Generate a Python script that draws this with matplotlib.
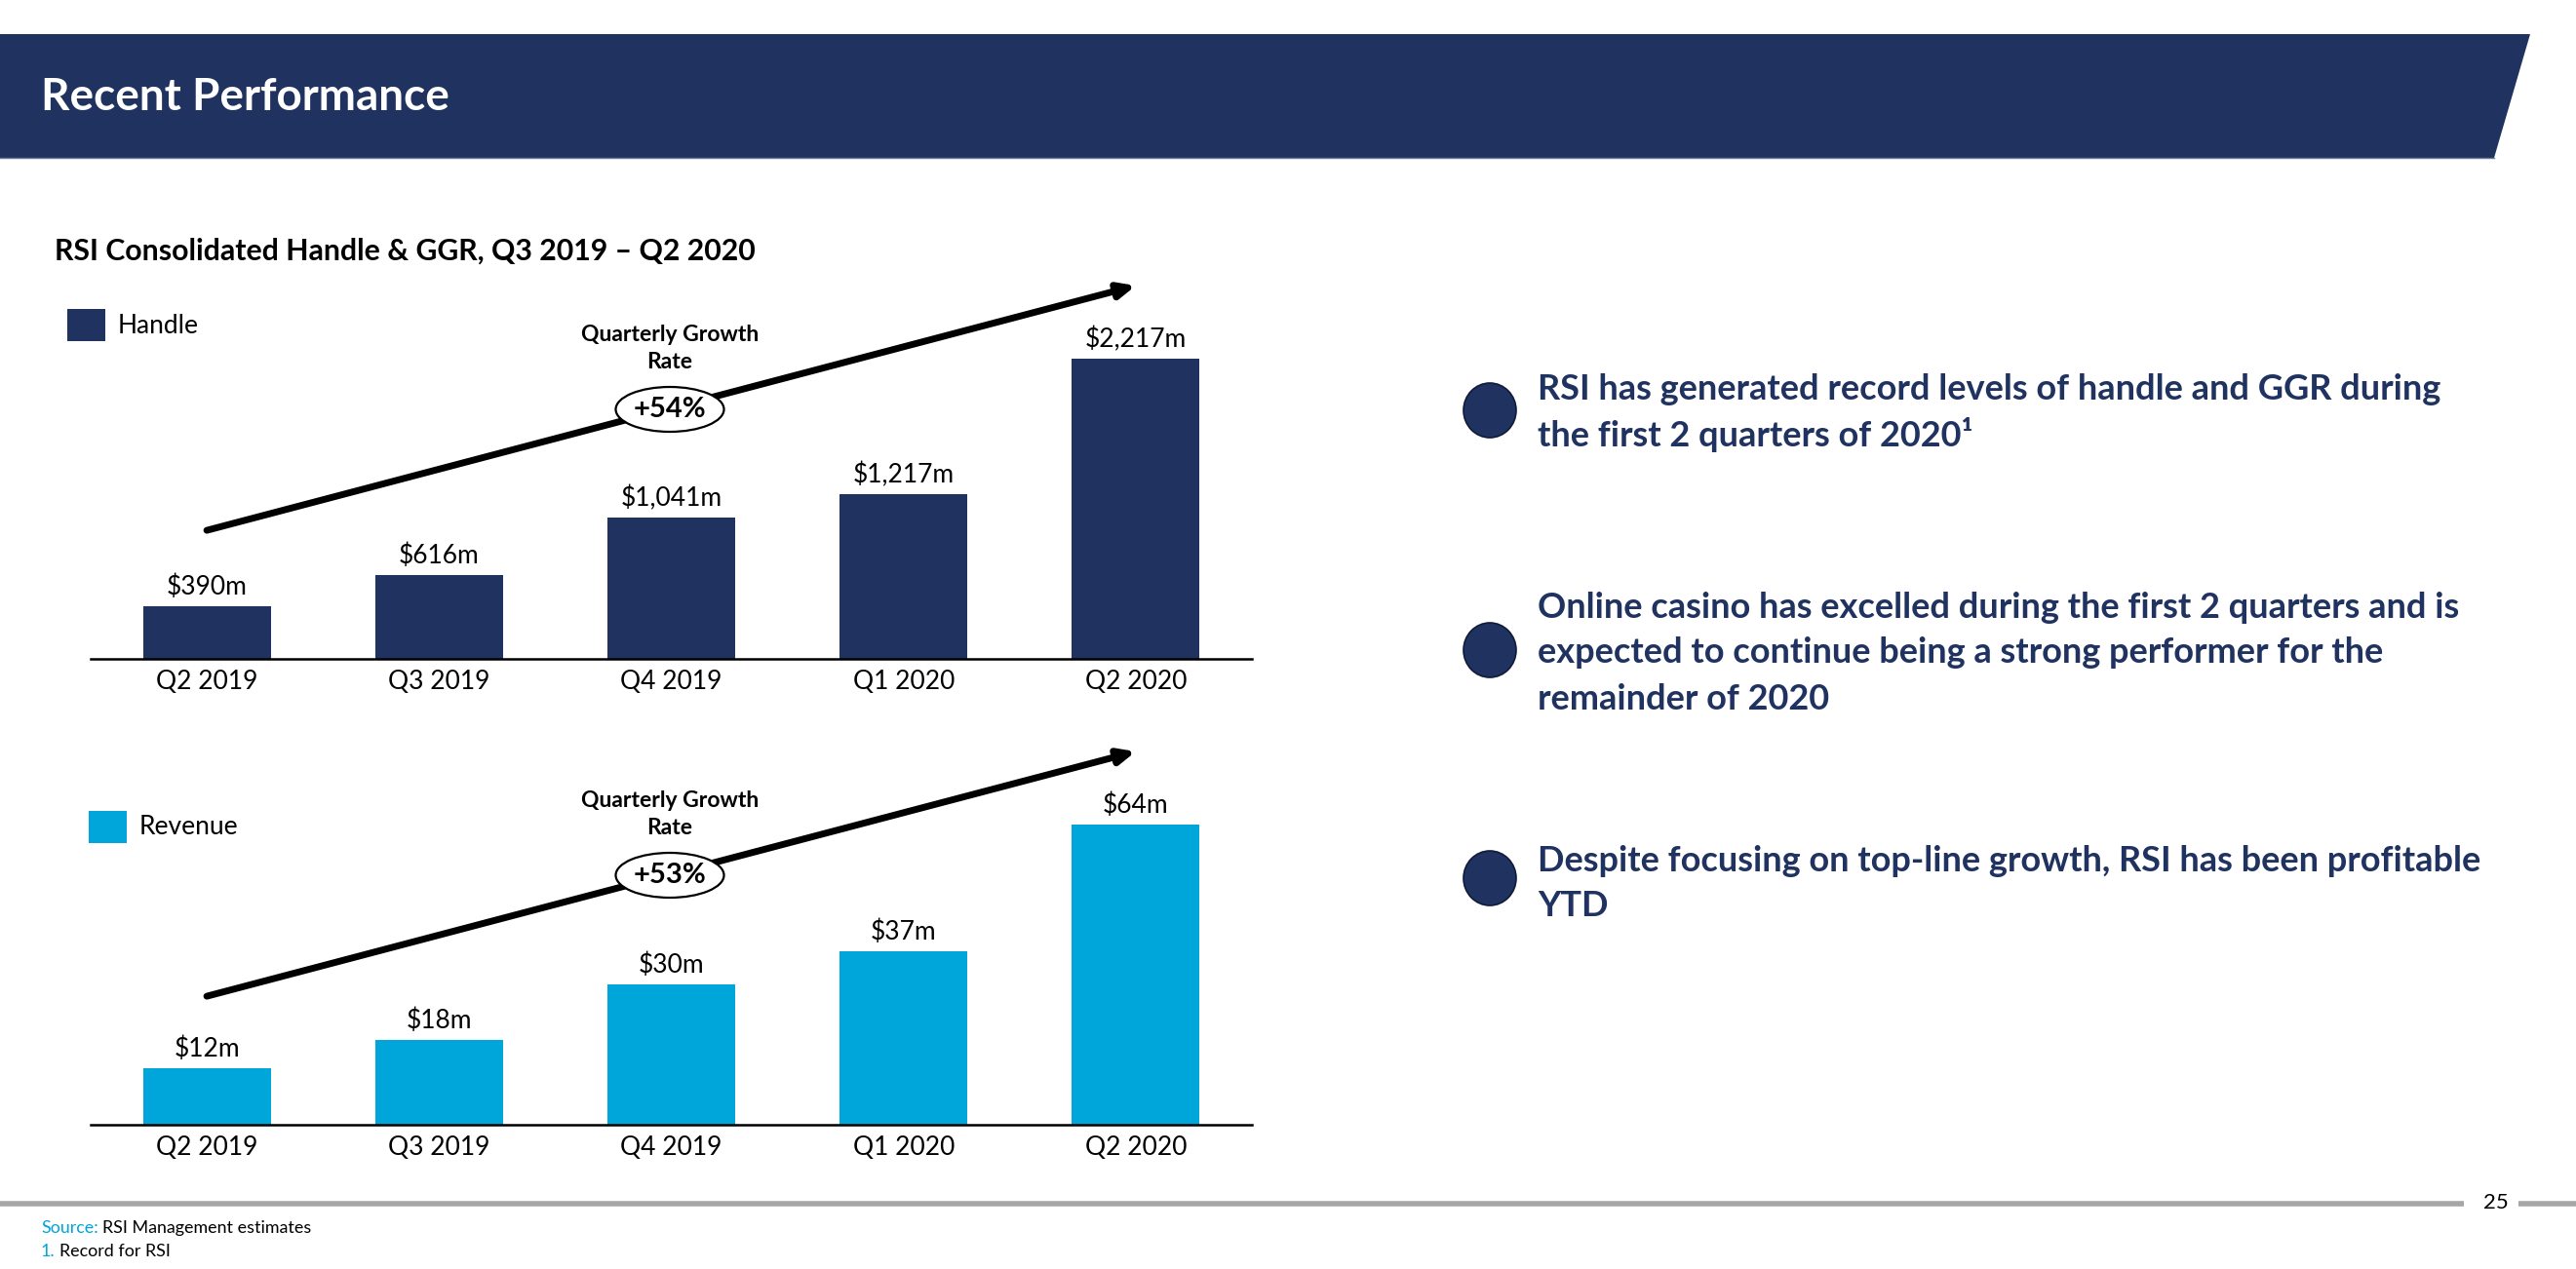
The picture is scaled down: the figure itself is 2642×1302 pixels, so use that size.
import matplotlib
matplotlib.use('Agg')
import matplotlib.pyplot as plt
from matplotlib.patches import Polygon, Ellipse, Rectangle

# data
quarters = ['Q2 2019', 'Q3 2019', 'Q4 2019', 'Q1 2020', 'Q2 2020']
handle = [390, 616, 1041, 1217, 2217]
revenue = [12, 18, 30, 37, 64]
handle_growth = '+54%'
revenue_growth = '+53%'
bullets = [
    ['RSI has generated record levels of handle and GGR during',
     'the first 2 quarters of 2020\u00b9'],
    ['Online casino has excelled during the first 2 quarters and is',
     'expected to continue being a strong performer for the',
     'remainder of 2020'],
    ['Despite focusing on top-line growth, RSI has been profitable',
     'YTD'],
]

NAVY = '#1F3260'
BLUE = '#00A6DA'
FONT = 'Lato'

W, H = 2642, 1302
fig = plt.figure(figsize=(W / 100, H / 100), dpi=100)
fig.patch.set_facecolor('white')

# full-page canvas in pixel coords
cv = fig.add_axes([0, 0, 1, 1])
cv.set_xlim(0, W)
cv.set_ylim(H, 0)
cv.axis('off')

# header band
cv.add_patch(Polygon([(0, 35), (2595, 35), (2558, 162), (0, 162)],
                     closed=True, facecolor=NAVY, edgecolor='none'))
cv.plot([0, 2558], [162, 162], color='#6F7F9A', lw=1)
cv.text(42, 100, 'Recent Performance', color='white', fontsize=33,
        fontweight='bold', family=FONT, ha='left', va='center')

cv.text(56, 258, 'RSI Consolidated Handle & GGR, Q3 2019 \u2013 Q2 2020',
        color='black', fontsize=21.8, fontweight='bold', family=FONT,
        ha='left', va='center')

# footer
cv.plot([0, 2527], [1235, 1235], color='#A6A6A6', lw=4, solid_capstyle='butt')
cv.plot([2583, 2642], [1235, 1235], color='#A6A6A6', lw=4, solid_capstyle='butt')
cv.text(2560, 1234, '25', fontsize=16, family=FONT, ha='center', va='center')


def two_color(x, y, first, rest, size=12.9):
    t = cv.text(x, y, first, color=BLUE, fontsize=size, family=FONT,
                ha='left', va='center')
    r = fig.canvas.get_renderer()
    bb = t.get_window_extent(renderer=r)
    cv.text(x + bb.width + 4, y, rest, color='black', fontsize=size,
            family=FONT, ha='left', va='center')


two_color(42, 1260, 'Source:', 'RSI Management estimates')
two_color(42, 1284, '1.', 'Record for RSI')


def bar_panel(bottom_px, values, color, legend, legend_xy, growth):
    ax = fig.add_axes([93 / W, (H - bottom_px) / H, 1191 / W, 396 / H])
    ax.patch.set_alpha(0)
    x = range(len(values))
    ax.bar(x, values, width=0.55, color=color, zorder=2)
    ax.set_xlim(-0.5, 4.5)
    ax.set_ylim(0, max(values) * 396 / 308)
    for s in ['top', 'right', 'left']:
        ax.spines[s].set_visible(False)
    ax.spines['bottom'].set_linewidth(1.8)
    ax.set_yticks([])
    ax.set_xticks(list(x))
    ax.set_xticklabels(quarters, fontsize=19, family=FONT)
    ax.tick_params(axis='x', length=0, pad=8)
    for i, v in enumerate(values):
        ax.annotate(f'${v:,}m', (i, v), xytext=(0, 5), textcoords='offset points',
                    ha='center', va='bottom', fontsize=19, family=FONT)
    # trend arrow
    ax.annotate('', xy=(4, 0.967), xycoords=('data', 'axes fraction'),
                xytext=(0, 0.333), textcoords=('data', 'axes fraction'),
                arrowprops=dict(arrowstyle='-|>,head_length=1.0,head_width=0.45',
                                color='black', lw=5, shrinkA=0, shrinkB=0),
                zorder=3)
    cv.text(687, bottom_px - 333, 'Quarterly Growth', ha='center', va='center',
            fontsize=16.5, fontweight='bold', family=FONT)
    cv.text(687, bottom_px - 304, 'Rate', ha='center', va='center',
            fontsize=16.5, fontweight='bold', family=FONT)
    # growth ellipse
    ey = bottom_px - 256
    cv.add_patch(Ellipse((687, ey), 111, 46, facecolor='white',
                         edgecolor='black', lw=1.6, zorder=4))
    cv.text(687, ey, growth, ha='center', va='center', fontsize=21,
            fontweight='bold', family=FONT, zorder=5)
    # legend
    lx, ly = legend_xy
    cv.add_patch(Rectangle((lx, ly - 17), 39, 33, facecolor=color, edgecolor='none'))
    cv.text(lx + 52, ly, legend, fontsize=19, family=FONT, ha='left', va='center')
    return ax


bar_panel(676, handle, NAVY, 'Handle', (69, 334), handle_growth)
bar_panel(1154, revenue, BLUE, 'Revenue', (91, 849), revenue_growth)

# canvas above bar axes so the ellipses cover the arrows
cv.set_zorder(3)
cv.patch.set_alpha(0)

# bullets
for y_dot, y_text, lines in zip([421, 667, 901], [399, 623, 883], bullets):
    cv.add_patch(Ellipse((1528, y_dot), 54, 56, facecolor=NAVY,
                         edgecolor='#0F1B38', lw=1.2))
    for k, line in enumerate(lines):
        cv.text(1577, y_text + k * 47, line, color=NAVY, fontsize=26,
                fontweight='bold', family=FONT, ha='left', va='center')

fig.savefig('out.png', dpi=100, facecolor='white')
